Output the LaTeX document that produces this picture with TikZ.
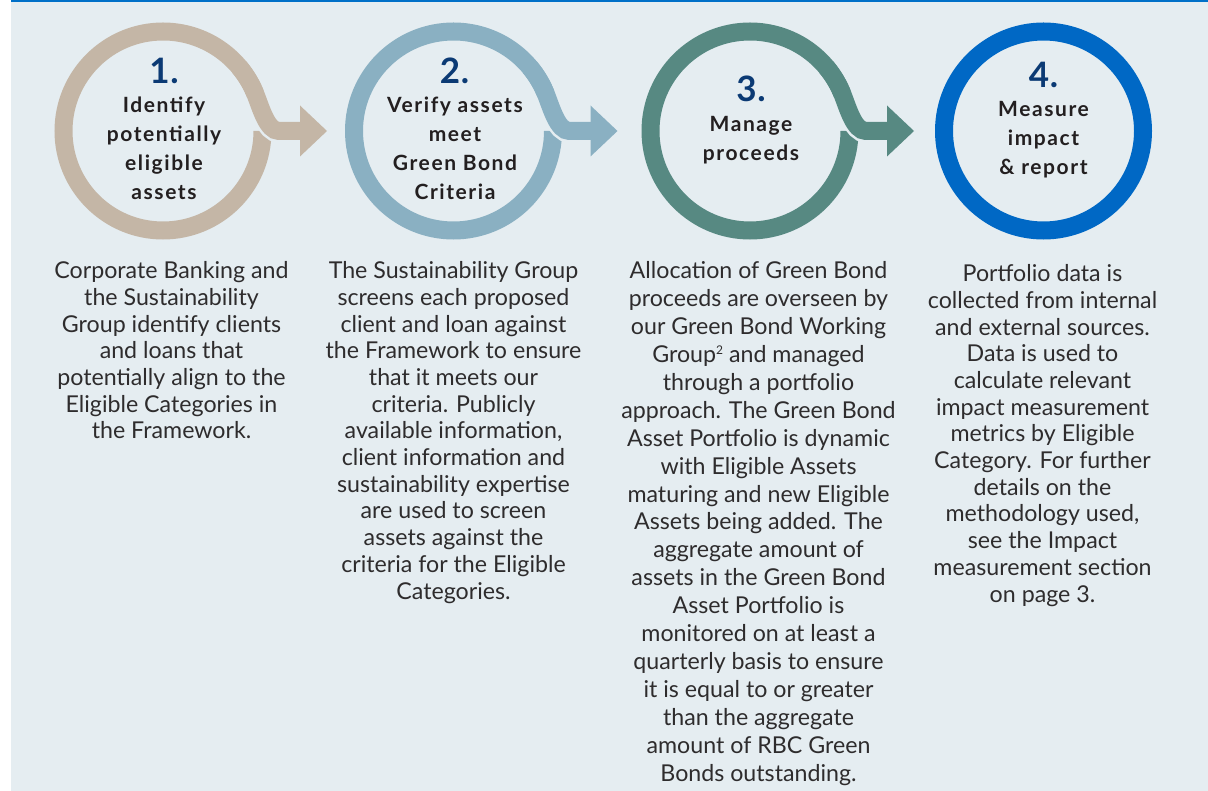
\documentclass[tikz,border=0pt]{standalone}
\usepackage{fontspec}
\setmainfont{Lato}
\newfontfamily\titlefont[LetterSpace=7.5]{Lato}
\newfontfamily\numfont[LetterSpace=2]{Lato}
\usetikzlibrary{calc}
\definecolor{bg}{HTML}{E5EDF1}
\definecolor{topblue}{HTML}{0070C8}
\definecolor{ctan}{HTML}{C4B6A6}
\definecolor{cgrey}{HTML}{8AB0C2}
\definecolor{cteal}{HTML}{578982}
\definecolor{cblue}{HTML}{0068C5}
\definecolor{navy}{HTML}{0B3A74}
\definecolor{ink}{HTML}{231F20}
\definecolor{bodyink}{HTML}{2E2C2D}
\newcommand\smallsup[1]{\raisebox{8pt}{\fontsize{12}{12}\selectfont #1}}
% multi-line nodes: anchor=base sits on the LAST line's baseline
\tikzset{
  numtext/.style={anchor=base, inner sep=0pt, text=navy, font=\numfont\bfseries\fontsize{35}{40}\selectfont},
  titletext/.style={anchor=base, inner sep=0pt, align=center, text=ink, font=\titlefont\bfseries\fontsize{21}{29}\selectfont},
  bodytext/.style={anchor=base, inner sep=0pt, align=center, text=bodyink, font=\fontsize{23.2}{26.67}\selectfont},
  bodytextwide/.style={bodytext, font=\fontsize{23.2}{27.9}\selectfont},
}
\newcommand\ringarrow[2]{%
  \draw[line width=18pt, #2] ($(#1)+(0:99.5)$) arc[start angle=0, end angle=338, radius=99.5];
  \draw[line width=23pt, bg, shorten <=5pt] ($(#1)+(-22:99.5)$) .. controls +(68:15) and +(-12,0) .. ($(#1)+(116,0)$) -- ($(#1)+(138,0)$);
  \draw[line width=18pt, #2] ($(#1)+(-40:99.5)$) arc[start angle=320, end angle=338, radius=99.5]
     .. controls +(68:15) and +(-12,0) .. ($(#1)+(116,0)$) -- ($(#1)+(138,0)$);
  \fill[#2] ($(#1)+(137,-25.5)$) -- ($(#1)+(164,0)$) -- ($(#1)+(137,25.5)$) -- cycle;
}
\begin{document}
\begin{tikzpicture}[x=1pt,y=-1pt]
\useasboundingbox (0,0) rectangle (1208,791);
\fill[white] (0,0) rectangle (1208,791);
\fill[bg] (11,2.5) rectangle (1208,791);
\fill[topblue] (11,0) rectangle (1208,2.5);

\coordinate (c1) at (163,131);
\coordinate (c2) at (453.5,131);
\coordinate (c3) at (750,131);
\coordinate (c4) at (1043.5,131);

\ringarrow{c1}{ctan}
\ringarrow{c2}{cgrey}
\ringarrow{c3}{cteal}
\draw[line width=18pt, cblue] (c4) circle[radius=99.5];

\node[numtext] (n1) at (164,83.3) {1.};
\node[titletext] (t1) at (164,199.5) {Identify\\potentially\\eligible\\assets};
\node[numtext] (n2) at (454.5,83.3) {2.};
\node[titletext] (t2) at (455,199.3) {Verify assets\\meet\\Green Bond\\Criteria};
\node[numtext] (n3) at (751,101.7) {3.};
\node[titletext] (t3) at (751,160.3) {Manage\\proceeds};
\node[numtext] (n4) at (1043.5,87.3) {4.};
\node[titletext] (t4) at (1043.5,175) {Measure\\impact\\\&~report};

\node[bodytext] (b1) at (171.5,439) {Corporate Banking and\\the Sustainability\\Group identify clients\\and loans that\\potentially align to the\\Eligible Categories in\\the Framework.};
\node[bodytext] (b2) at (453.5,599) {The Sustainability Group\\screens each proposed\\client and loan against\\the Framework to ensure\\that it meets our\\criteria. Publicly\\available information,\\client information and\\sustainability expertise\\are used to screen\\assets against the\\criteria for the Eligible\\Categories.};
\node[bodytextwide] (b3) at (758.5,781) {Allocation of Green Bond\\proceeds are overseen by\\our Green Bond Working\\Group\smallsup{2} and managed\\through a portfolio\\approach. The Green Bond\\Asset Portfolio is dynamic\\with Eligible Assets\\maturing and new Eligible\\Assets being added. The\\aggregate amount of\\assets in the Green Bond\\Asset Portfolio is\\monitored on at least a\\quarterly basis to ensure\\it is equal to or greater\\than the aggregate\\amount of RBC Green\\Bonds outstanding.};
\node[bodytext] (b4) at (1042.5,602) {Portfolio data is\\collected from internal\\and external sources.\\Data is used to\\calculate relevant\\impact measurement\\metrics by Eligible\\Category. For further\\details on the\\methodology used,\\see the Impact\\measurement section\\on page 3.};
\end{tikzpicture}
\end{document}
